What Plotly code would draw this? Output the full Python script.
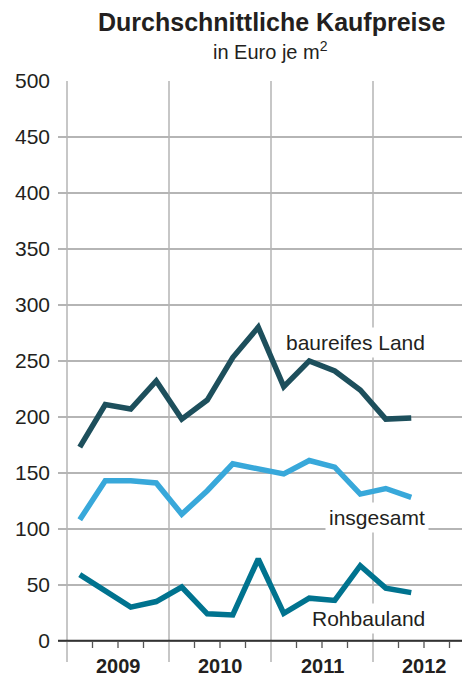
import plotly.graph_objects as go

quarters = ["2009 Q1", "2009 Q2", "2009 Q3", "2009 Q4",
            "2010 Q1", "2010 Q2", "2010 Q3", "2010 Q4",
            "2011 Q1", "2011 Q2", "2011 Q3", "2011 Q4",
            "2012 Q1", "2012 Q2"]
baureifes_land = [173, 211, 207, 232, 198, 215, 253, 280, 227, 250, 241, 224, 198, 199]
insgesamt = [108, 143, 143, 141, 113, 134, 158, 153, 149, 161, 155, 131, 136, 128]
rohbauland = [59, 45, 30, 35, 48, 24, 23, 73, 24.5, 38, 36, 67, 47, 43]
years = ["2009", "2010", "2011", "2012"]
y_ticks = [0, 50, 100, 150, 200, 250, 300, 350, 400, 450, 500]

FONT = "Liberation Sans, Arial, Helvetica, sans-serif"
TXT = "#231f20"
GRID = "#b5b5b5"
C_BAU = "#1d4f5c"
C_INS = "#38a8da"
C_ROH = "#00738f"

# the page body has an 8px margin, so the figure is 8px smaller than the window
OFF = 8
W, H = 470 - OFF, 677 - OFF
PL, PR, PT, PB = 58 - OFF, 470 - OFF, 81 - OFF, 662 - OFF  # plot box in figure px

# quarter centres on a numeric axis: one unit per quarter, year starts at 0,4,8,...
xpos = [years.index(q.split()[0]) * 4 + int(q[-1]) - 0.5 for q in quarters]

X0, X1 = -0.353, 15.804
Y0, Y1 = -19, 500

fig = go.Figure()
for vals, col, name in [(rohbauland, C_ROH, "Rohbauland"),
                        (insgesamt, C_INS, "insgesamt"),
                        (baureifes_land, C_BAU, "baureifes Land")]:
    fig.add_trace(go.Scatter(x=xpos, y=vals, mode="lines", name=name,
                             line=dict(color=col, width=5.5), cliponaxis=False))

shapes = []
for i in range(len(years)):
    shapes.append(dict(type="line", xref="x", yref="y", x0=i * 4, x1=i * 4,
                       y0=Y0, y1=Y1, line=dict(color=GRID, width=1.5), layer="below"))
for q in range(1, 16):
    if q % 4 == 0:
        continue
    shapes.append(dict(type="line", xref="x", yref="y", x0=q, x1=q, y0=0, y1=-6.5,
                       line=dict(color="#555555", width=1.3), layer="below"))
shapes.append(dict(type="line", xref="x", yref="y", x0=X0, x1=X1, y0=0, y1=0,
                   line=dict(color="#333333", width=2), layer="above"))

pw, ph = PR - PL, PB - PT
annotations = [
    dict(text="<b>Durchschnittliche Kaufpreise</b>", xref="paper", yref="paper",
         x=(271 - 58) / pw, y=(662 - 22.5) / ph, showarrow=False,
         font=dict(size=25, color=TXT, family=FONT), xanchor="center", yanchor="middle"),
    dict(text="in Euro je m<sup>2</sup>", xref="paper", yref="paper",
         x=(270 - 58) / pw, y=(662 - 51) / ph, showarrow=False,
         font=dict(size=20, color=TXT, family=FONT), xanchor="center", yanchor="middle"),
]
for i, yr in enumerate(years):
    annotations.append(dict(text="<b>" + yr + "</b>", xref="x", yref="paper", x=i * 4 + 2,
                            y=(662 - 665.5) / ph, showarrow=False,
                            xanchor="center", yanchor="middle",
                            font=dict(size=20, color=TXT, family=FONT)))
for text, yv in [("baureifes Land", 266), ("insgesamt", 110.5), ("Rohbauland", 20)]:
    annotations.append(dict(text=text, xref="x", yref="y", x=14.2, y=yv,
                            showarrow=False, xanchor="right", yanchor="middle",
                            bgcolor="white", borderpad=3,
                            font=dict(size=21, color=TXT, family=FONT)))

fig.update_layout(
    width=W, height=H,
    margin=dict(l=PL, r=W - PR, t=PT, b=H - PB),
    paper_bgcolor="white", plot_bgcolor="white",
    showlegend=False,
    font=dict(family=FONT, color=TXT),
    xaxis=dict(range=[X0, X1], showgrid=False, zeroline=False, showticklabels=False,
               showline=False, fixedrange=True),
    yaxis=dict(range=[Y0, Y1], tickvals=y_ticks, showgrid=True, gridcolor=GRID,
               gridwidth=1.5, zeroline=False, showline=False, ticks="",
               ticklabelstandoff=7, tickfont=dict(size=21, color=TXT, family=FONT),
               fixedrange=True),
    shapes=shapes,
    annotations=annotations,
)

fig.write_html("out.html")
